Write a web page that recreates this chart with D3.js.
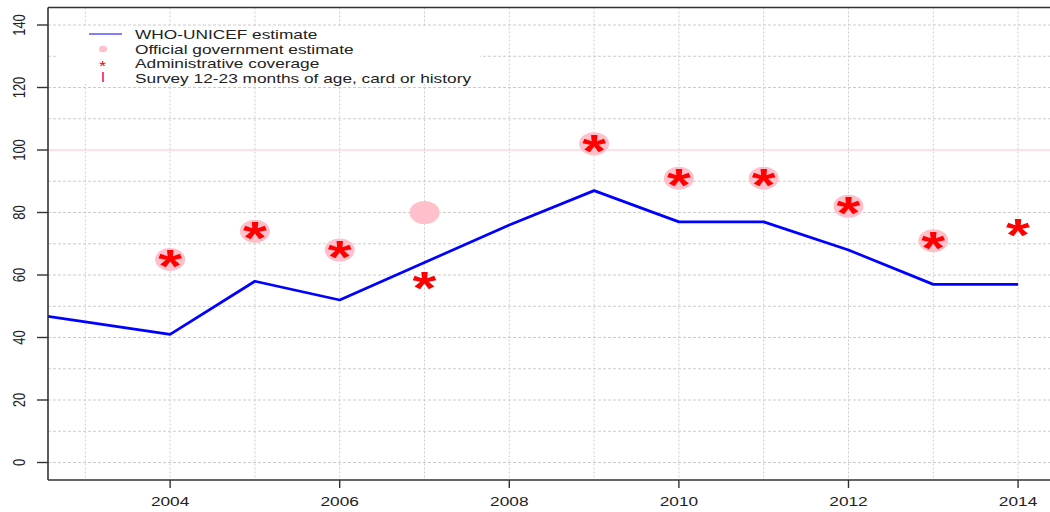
<!DOCTYPE html>
<html>
<head>
<meta charset="utf-8">
<script src="https://cdn.jsdelivr.net/npm/d3@7"></script>
<style>
  html, body { margin: 0; padding: 0; background: #ffffff; }
  svg { display: block; font-family: "Liberation Sans", Arial, sans-serif; }
</style>
</head>
<body>
<svg id="chart" width="1050" height="512"></svg>
<script>
// Coverage series by year
const years = [2002, 2003, 2004, 2005, 2006, 2007, 2008, 2009, 2010, 2011, 2012, 2013, 2014];
const whoUnicef = [49, 45, 41, 58, 52, 64, 76, 87, 77, 77, 68, 57, 57];

const govYears = [2004, 2005, 2006, 2007, 2009, 2010, 2011, 2012, 2013];
const govValues = [65, 74, 68, 80, 102, 91, 91, 82, 71];

const adminYears = [2004, 2005, 2006, 2007, 2009, 2010, 2011, 2012, 2013, 2014];
const adminValues = [65, 74, 68, 58, 102, 91, 91, 82, 71, 75];

const xTicks = [2004, 2006, 2008, 2010, 2012, 2014];
const yTicks = [0, 20, 40, 60, 80, 100, 120, 140];
const gridYears = [2003, 2004, 2005, 2006, 2007, 2008, 2009, 2010, 2011, 2012, 2013, 2014];
const gridValues = [0, 10, 20, 30, 40, 50, 60, 70, 80, 90, 100, 110, 120, 130, 140];

const legendLabels = [
  "WHO-UNICEF estimate",
  "Official government estimate",
  "Administrative coverage",
  "Survey 12-23 months of age, card or history"
];

// Horizontal stretch applied to all glyphs
const SX = 1.33;

const svg = d3.select("#chart");

const x = d3.scaleLinear().domain([2002.56, 2014.44]).range([48, 1055.4]);
const y = d3.scaleLinear().domain([-5.6, 145.6]).range([480, 7.5]);

const plotL = x.range()[0], plotR = x.range()[1];
const plotT = y.range()[1], plotB = y.range()[0];

svg.append("defs").append("clipPath").attr("id", "plotclip")
  .append("rect").attr("x", plotL).attr("y", plotT)
  .attr("width", plotR - plotL).attr("height", plotB - plotT);

const plot = svg.append("g").attr("clip-path", "url(#plotclip)");

// grid
plot.append("g").selectAll("line").data(gridYears).join("line")
  .attr("x1", d => x(d)).attr("x2", d => x(d))
  .attr("y1", plotT).attr("y2", plotB)
  .attr("stroke", "#cccccc").attr("stroke-width", 1)
  .attr("stroke-dasharray", "2,2");

plot.append("g").selectAll("line").data(gridValues.filter(v => v !== 100)).join("line")
  .attr("x1", plotL).attr("x2", plotR)
  .attr("y1", d => y(d)).attr("y2", d => y(d))
  .attr("stroke", "#cccccc").attr("stroke-width", 1)
  .attr("stroke-dasharray", "3,2");

// 100% reference
plot.append("line")
  .attr("x1", plotL).attr("x2", plotR)
  .attr("y1", y(100)).attr("y2", y(100))
  .attr("stroke", "#ffc0cb").attr("stroke-width", 1.2);

// official government estimates
plot.append("g").selectAll("ellipse").data(govYears).join("ellipse")
  .attr("cx", d => x(d)).attr("cy", (d, i) => y(govValues[i]))
  .attr("rx", 15).attr("ry", 11.5)
  .attr("fill", "#ffc0cb");

// WHO-UNICEF line
const line = d3.line().x(d => x(d[0])).y(d => y(d[1]));
plot.append("path")
  .datum(years.map((yr, i) => [yr, whoUnicef[i]]))
  .attr("d", line)
  .attr("fill", "none").attr("stroke", "#0000ff").attr("stroke-width", 2.7)
  .attr("stroke-linejoin", "round");

// administrative coverage asterisks, centred on their values
const starSize = 46;
const stars = plot.append("g").selectAll("g").data(adminYears).join("g");
stars.append("text")
  .text("*")
  .attr("font-size", starSize).attr("font-weight", "bold")
  .attr("fill", "#ff0000");
stars.each(function(d, i) {
  const g = d3.select(this);
  const bb = g.select("text").node().getBBox();
  // ink of the asterisk sits high in the em box
  const cx = bb.x + bb.width / 2;
  const cy = -0.5 * starSize;
  g.attr("transform", `translate(${x(d)},${y(adminValues[i])}) scale(${SX},1) translate(${-cx},${-cy})`);
});

// frame
const frame = svg.append("g").attr("stroke", "#333").attr("stroke-width", 1.6).attr("fill", "none");
frame.append("line").attr("x1", plotL).attr("x2", plotL).attr("y1", plotT).attr("y2", plotB);
frame.append("line").attr("x1", plotL).attr("x2", plotR).attr("y1", plotB).attr("y2", plotB);
frame.append("line").attr("x1", plotL).attr("x2", plotR).attr("y1", plotT).attr("y2", plotT);

// y axis ticks & labels
svg.append("g").selectAll("line").data(yTicks).join("line")
  .attr("x1", plotL - 11).attr("x2", plotL)
  .attr("y1", d => y(d)).attr("y2", d => y(d))
  .attr("stroke", "#333").attr("stroke-width", 1.4);
svg.append("g").selectAll("text").data(yTicks).join("text")
  .attr("transform", d => `translate(25,${y(d)}) scale(${SX},1) rotate(-90)`)
  .attr("text-anchor", "middle")
  .attr("font-size", 13).attr("fill", "#222")
  .text(d => d);

// x axis ticks & labels
svg.append("g").selectAll("line").data(xTicks).join("line")
  .attr("x1", d => x(d)).attr("x2", d => x(d))
  .attr("y1", plotB).attr("y2", plotB + 8)
  .attr("stroke", "#333").attr("stroke-width", 1.4);
svg.append("g").selectAll("text").data(xTicks).join("text")
  .attr("transform", d => `translate(${x(d)},506) scale(${SX},1)`)
  .attr("text-anchor", "middle")
  .attr("font-size", 13).attr("fill", "#222")
  .text(d => d);

// legend
const legend = svg.append("g");
legend.append("rect").attr("x", 56).attr("y", 27).attr("width", 424).attr("height", 57).attr("fill", "#fff");
const rowY = [34, 49, 63.5, 78];
legend.append("line").attr("x1", 89).attr("x2", 122).attr("y1", rowY[0]).attr("y2", rowY[0])
  .attr("stroke", "#0000ff").attr("stroke-width", 1.2);
legend.append("ellipse").attr("cx", 103).attr("cy", rowY[1]).attr("rx", 4).attr("ry", 3.2).attr("fill", "#ffc0cb");
const ls = legend.append("g");
ls.append("text").text("*").attr("font-size", 14).attr("fill", "#ff0000");
(function() {
  const bb = ls.select("text").node().getBBox();
  ls.attr("transform", `translate(103,${rowY[2]}) scale(${SX},1) translate(${-(bb.x + bb.width / 2)},${0.5 * 14})`);
})();
legend.append("line").attr("x1", 103).attr("x2", 103).attr("y1", rowY[3] - 6).attr("y2", rowY[3] + 4)
  .attr("stroke", "#ff3060").attr("stroke-width", 1.8);
legend.selectAll("text.lab").data(legendLabels).join("text")
  .attr("class", "lab")
  .attr("transform", (d, i) => `translate(135,${rowY[i] + 4.6}) scale(${SX},1)`)
  .attr("font-size", 13).attr("fill", "#222")
  .text(d => d);
</script>
</body>
</html>
